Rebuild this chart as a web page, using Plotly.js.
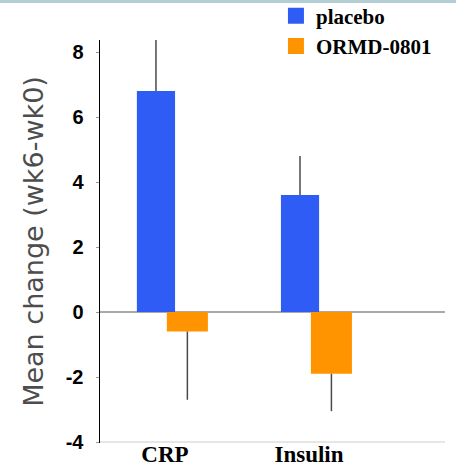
<!DOCTYPE html>
<html>
<head>
<meta charset="utf-8">
<script src="https://cdn.plot.ly/plotly-3.0.1.min.js"></script>
<style>
html,body{margin:0;padding:0;background:#fff;}
#wrap{width:456px;height:466px;border-top:3px solid #b3cdd4;box-sizing:border-box;}
#chart{width:456px;height:463px;}
</style>
</head>
<body>
<div id="wrap"><div id="chart"></div></div>
<script>
var categories = ['CRP', 'Insulin'];
var placeboValues = [6.8, 3.6];
var placeboErrors = [1.6, 1.2];
var ormdValues = [-0.6, -1.9];
var ormdErrors = [2.1, 1.15];
var yTickValues = [-4, -2, 0, 2, 4, 6, 8];
var yTickText = ['-4', '-2', '0', '2', '4', '6', '8'];
var seriesNames = ['placebo', 'ORMD-0801'];
var seriesColors = ['#2f5cf5', '#ff9400'];

var traces = [
  {
    type: 'bar', name: seriesNames[0], x: categories, y: placeboValues,
    width: 0.265, offset: -0.195, showlegend: false,
    marker: {color: seriesColors[0]},
    error_y: {type: 'data', symmetric: false, array: placeboErrors, arrayminus: [0, 0],
              color: '#4a4a4a', thickness: 1.5, width: 0}
  },
  {
    type: 'bar', name: seriesNames[1], x: categories, y: ormdValues,
    width: 0.285, offset: 0.013, showlegend: false,
    marker: {color: seriesColors[1]},
    error_y: {type: 'data', symmetric: false, array: [0, 0], arrayminus: ormdErrors,
              color: '#4a4a4a', thickness: 1.5, width: 0}
  },
  {
    type: 'scatter', mode: 'markers', name: seriesNames[0], x: [null], y: [null],
    marker: {symbol: 'square', size: 17, color: seriesColors[0]}, hoverinfo: 'skip'
  },
  {
    type: 'scatter', mode: 'markers', name: seriesNames[1], x: [null], y: [null],
    marker: {symbol: 'square', size: 17, color: seriesColors[1]}, hoverinfo: 'skip'
  }
];

var layout = {
  width: 456, height: 463,
  margin: {l: 100, r: 11, t: 37, b: 23, autoexpand: false},
  paper_bgcolor: '#fff', plot_bgcolor: '#fff',
  barmode: 'overlay',
  showlegend: true,
  legend: {
    x: 0.51, y: 1.11, xanchor: 'left', yanchor: 'top',
    font: {family: 'Liberation Serif', size: 21, color: '#000', weight: 'bold'},
    bgcolor: 'rgba(0,0,0,0)', tracegroupgap: 0, itemwidth: 30
  },
  xaxis: {
    type: 'category', range: [-0.451, 1.944],
    showgrid: false, zeroline: false, showline: false, ticks: '',
    ticklabelstandoff: -5,
    tickfont: {family: 'Liberation Serif', size: 23, color: '#000', weight: 'bold'},
    automargin: false
  },
  yaxis: {
    range: [-4.03, 8.37],
    tickvals: yTickValues, ticktext: yTickText, tickmode: 'array',
    showgrid: false,
    zeroline: true, zerolinecolor: '#aaa', zerolinewidth: 2,
    showline: true, linecolor: '#000', linewidth: 1.5,
    ticks: 'outside', ticklen: 3, tickcolor: '#999',
    ticklabelstandoff: 8,
    tickfont: {family: 'Liberation Sans', size: 20, color: '#000', weight: 'bold'},
    title: {text: 'Mean change (wk6-wk0)', standoff: 14,
            font: {family: 'DejaVu Sans', size: 27, color: '#4d4d4d'}},
    automargin: false
  },
  shapes: [
    {type: 'line', xref: 'paper', yref: 'y', x0: 0, x1: 1, y0: -4, y1: -4,
     line: {color: '#e6e6e6', width: 2}, layer: 'below'}
  ]
};

Plotly.newPlot('chart', traces, layout, {displayModeBar: false, staticPlot: true});
</script>
</body>
</html>
